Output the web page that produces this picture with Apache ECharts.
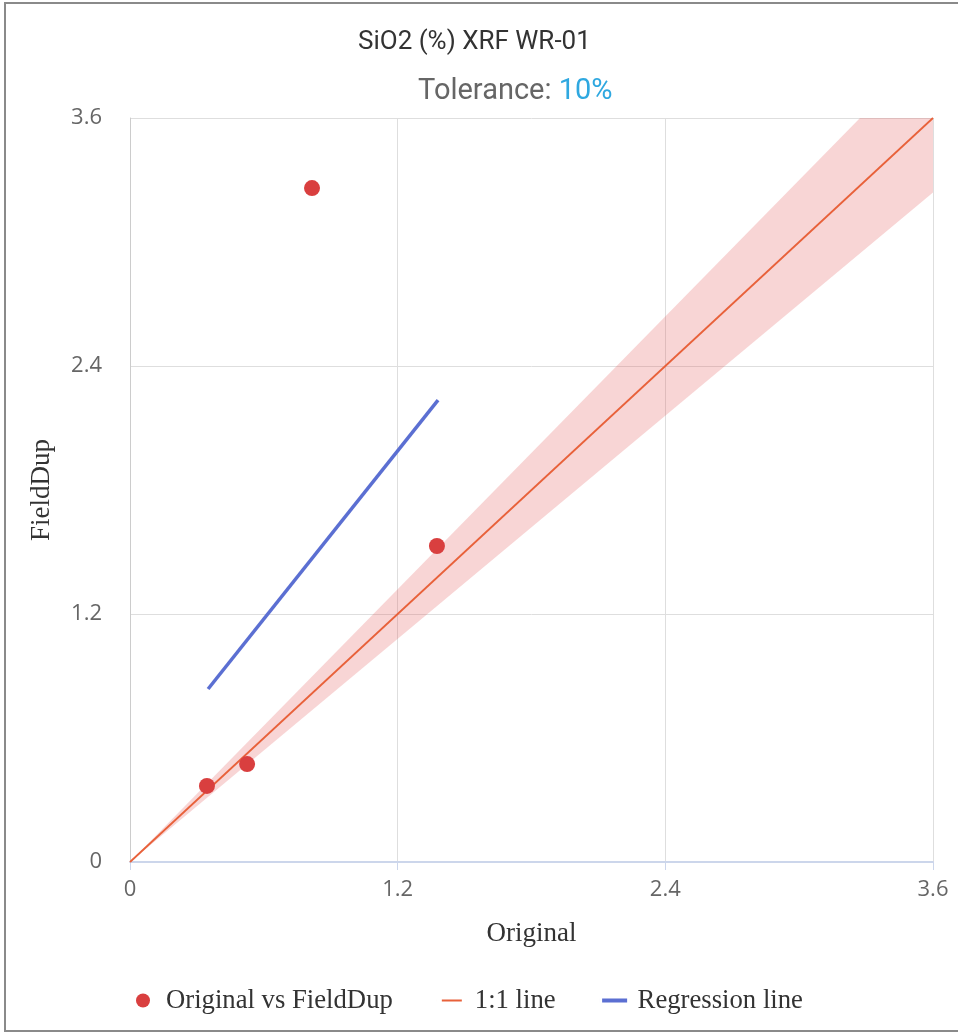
<!DOCTYPE html>
<html>
<head>
    <meta charset="utf-8">
    <title>SiO2 (%) XRF WR-01</title>
    <style>
        html, body { margin: 0; padding: 0; background: #fff; overflow: hidden; }
        #frame { position: absolute; left: 4px; top: 2px; width: 1000px; height: 1030px; border: 2px solid #8a8a8a; box-sizing: border-box; }
        #chart { position: absolute; left: 0; top: 0; width: 958px; height: 1034px; }
    </style>
</head>
<body>
    <div id="frame"></div>
    <div id="chart"></div>
    <script src="https://cdn.jsdelivr.net/npm/echarts@6/dist/echarts.min.js"></script>
    <script>
        // samples: original value vs field duplicate
        var originalVals = [0.345, 0.525, 0.816, 1.376];
        var fieldDupVals = [0.368, 0.474, 3.261, 1.529];
        // regression line end points
        var regX = [0.35, 1.381];
        var regY = [0.837, 2.235];
        // 1:1 line and tolerance
        var lineX = [0, 3.6];
        var tolerance = 0.1;
        var axisMax = 3.6;
        var tickStep = 1.2;

        var serifFont = '"Liberation Serif", "DejaVu Serif", serif';
        var sansFont = '"Open Sans", "Noto Sans", sans-serif';

        var scatterData = originalVals.map(function (v, i) { return [v, fieldDupVals[i]]; });
        var regData = regX.map(function (v, i) { return [v, regY[i]]; });
        var oneData = lineX.map(function (v) { return [v, v]; });

        // tolerance band polygon around the 1:1 line
        function renderBand(params, api) {
            var x0 = api.value(0), x1 = api.value(1);
            var pts = [
                api.coord([x0, x0 * (1 - tolerance)]),
                api.coord([x1, x1 * (1 - tolerance)]),
                api.coord([x1, x1 * (1 + tolerance)]),
                api.coord([x0, x0 * (1 + tolerance)])
            ];
            return {
                type: 'polygon',
                shape: { points: pts },
                style: { fill: 'rgba(224, 80, 80, 0.24)' }
            };
        }

        // legend line icons: tiny end caps keep the 30px box, the visible bar sits in the middle
        function barIcon(len, h) {
            var a = (30 - len) / 2, b = a + len;
            return 'path://M0,0L0.01,0L0.01,' + h + 'L0,' + h + 'Z' +
                'M' + a + ',0L' + b + ',0L' + b + ',' + h + 'L' + a + ',' + h + 'Z' +
                'M29.99,0L30,0L30,' + h + 'L29.99,' + h + 'Z';
        }

        var chart = echarts.init(document.getElementById('chart'));
        var option = {
            animation: false,
            title: [{
                text: 'SiO2 (%) XRF WR-01',
                left: 353,
                top: 24,
                textStyle: { fontFamily: 'Roboto, sans-serif', fontSize: 26, fontWeight: 'normal', color: '#333' }
            }, {
                text: 'Tolerance: {b|10%}',
                left: 413,
                top: 72,
                textStyle: {
                    fontFamily: 'Roboto, sans-serif', fontSize: 29, fontWeight: 'normal', color: '#666',
                    rich: { b: { fontFamily: 'Roboto, sans-serif', fontSize: 29, color: '#2fa8e0' } }
                }
            }],
            legend: {
                bottom: 15,
                left: 131,
                itemGap: 44,
                itemWidth: 30,
                itemHeight: 14,
                textStyle: { fontFamily: serifFont, fontSize: 26.7, color: '#333', padding: [0, 0, 0, 3] },
                data: [
                    { name: 'Original vs FieldDup', icon: 'circle' },
                    { name: '1:1 line', icon: barIcon(20, 2) },
                    { name: 'Regression line', icon: barIcon(25, 4) }
                ]
            },
            grid: { left: 130, right: 25, top: 118, bottom: 172 },
            xAxis: {
                type: 'value',
                min: 0,
                max: axisMax,
                interval: tickStep,
                name: 'Original',
                nameLocation: 'middle',
                nameGap: 58,
                nameTextStyle: { fontFamily: serifFont, fontSize: 27, color: '#333' },
                axisLine: { show: true, lineStyle: { color: '#ccd6eb', width: 2 } },
                axisTick: { show: true, length: 8, lineStyle: { color: '#ccd6eb' } },
                axisLabel: { margin: 17, fontFamily: sansFont, fontSize: 22, color: '#666' },
                splitLine: { lineStyle: { color: '#dedede' } }
            },
            yAxis: {
                type: 'value',
                min: 0,
                max: axisMax,
                interval: tickStep,
                name: 'FieldDup',
                nameLocation: 'middle',
                nameGap: 75,
                nameTextStyle: { fontFamily: serifFont, fontSize: 27, color: '#333' },
                axisLine: { show: true, lineStyle: { color: '#cccccc' } },
                axisTick: { show: false },
                axisLabel: { margin: 28, fontFamily: sansFont, fontSize: 22, color: '#666' },
                splitLine: { lineStyle: { color: '#dedede' } }
            },
            series: [{
                name: 'band',
                type: 'custom',
                renderItem: renderBand,
                data: [[lineX[0], lineX[1]]],
                encode: { x: [0, 1] },
                clip: true,
                silent: true,
                z: 1
            }, {
                name: '1:1 line',
                type: 'line',
                data: oneData,
                symbol: 'none',
                lineStyle: { color: '#e8613a', width: 1.8 },
                itemStyle: { color: '#e8613a' },
                z: 2
            }, {
                name: 'Regression line',
                type: 'line',
                data: regData,
                symbol: 'none',
                lineStyle: { color: '#5b6fd2', width: 3.5 },
                itemStyle: { color: '#5b6fd2' },
                z: 3
            }, {
                name: 'Original vs FieldDup',
                type: 'scatter',
                data: scatterData,
                symbolSize: 16,
                itemStyle: { color: '#d93f3f', opacity: 1 },
                z: 4
            }]
        };
        chart.setOption(option);
        window.addEventListener('resize', function () {
            chart.resize();
        });
    </script>
</body>
</html>
